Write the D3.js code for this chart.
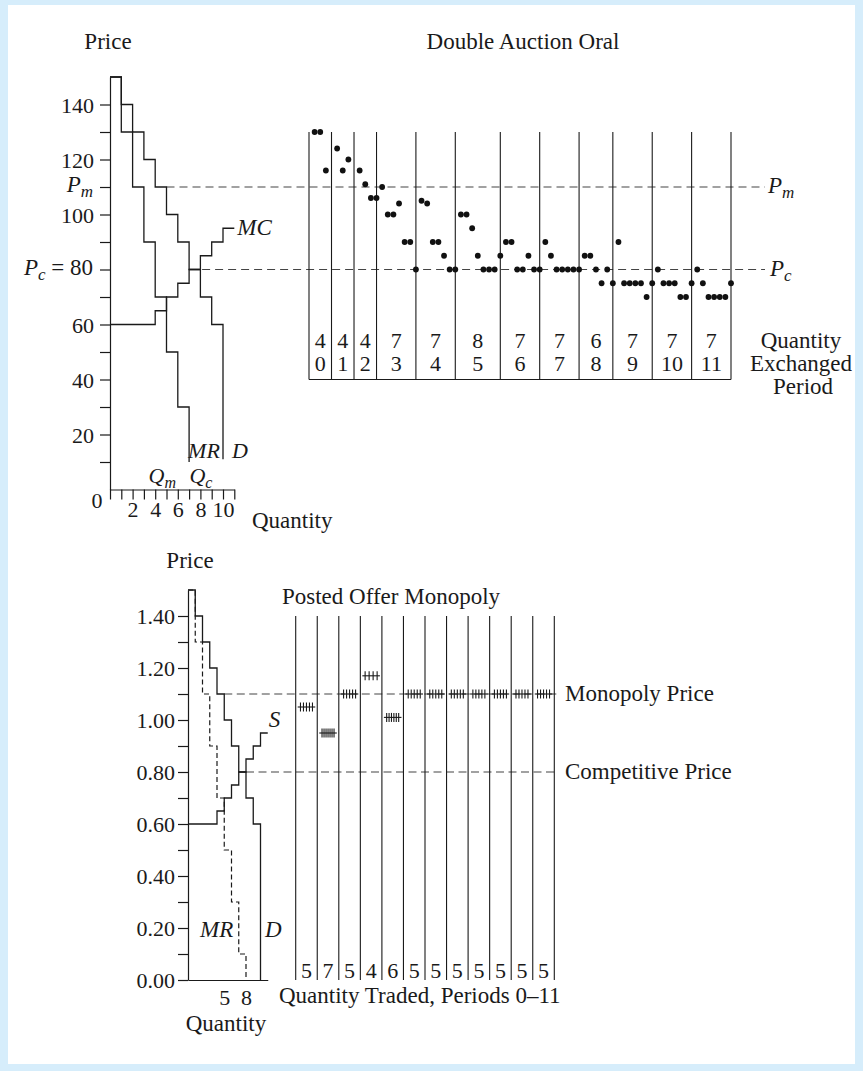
<!DOCTYPE html>
<html>
<head>
<meta charset="utf-8">
<script src="https://cdn.jsdelivr.net/npm/d3@7"></script>
<style>
  html, body { margin: 0; padding: 0; background: #d6edfb; }
  svg { display: block; }
</style>
</head>
<body>
<svg id="fig" width="863" height="1071"></svg>
<script>
// ---------- Double auction (oral): induced values and costs, price in cents ----------
const demandTop  = [150, 140, 130, 120, 110, 100, 90, 80, 70, 60]; // level over unit q..q+1
const demandTopEnd = 11;
const mrTop      = [150, 130, 110, 90, 70, 50, 30];
const mrTopEnd   = 10;
const mcTop      = [60, 60, 60, 60, 65, 70, 75, 80, 85, 90, 95];
const priceMonopolyTop = 110;
const priceCompetitiveTop = 80;
const yTickValuesTop = [10, 20, 30, 40, 50, 60, 70, 80, 90, 100, 110, 120, 130, 140];
const xTickValuesTop = [0, 1, 2, 3, 4, 5, 6, 7, 8, 9, 10, 11];

// contracts per trading period and the prices at which they were struck, in order
const periodQty = [4, 4, 4, 7, 7, 8, 7, 7, 6, 7, 7, 7];
const periodNames = ["0", "1", "2", "3", "4", "5", "6", "7", "8", "9", "10", "11"];
const tradePrices = [
  [130, 130, 116],
  [124, 116, 120],
  [116, 111, 106, 106],
  [110, 100, 100, 104, 90, 90, 80],
  [105, 104, 90, 90, 85, 80, 80],
  [100, 100, 95, 85, 80, 80, 80, 85],
  [90, 90, 80, 80, 85, 80, 80],
  [90, 85, 80, 80, 80, 80, 80],
  [85, 85, 80, 75, 80, 75],
  [90, 75, 75, 75, 75, 70, 75],
  [80, 75, 75, 75, 70, 70, 75],
  [80, 75, 70, 70, 70, 70, 75]
];

// ---------- Posted offer monopoly, price in dollars ----------
const demandLow = [1.50, 1.40, 1.30, 1.20, 1.10, 1.00, 0.90, 0.80, 0.70, 0.60];
const demandLowEnd = 0;
const mrLow     = [1.50, 1.30, 1.10, 0.90, 0.70, 0.50, 0.30, 0.10];
const mrLowEnd  = 0;
const supplyLow = [0.60, 0.60, 0.60, 0.60, 0.65, 0.70, 0.75, 0.80, 0.85, 0.90, 0.95];
const priceMonopolyLow = 1.10;
const priceCompetitiveLow = 0.80;
const yTickValuesLow = d3.range(0, 15).map(i => i / 10);
const xTickValuesLow = [5, 8];
const postedQty = [5, 7, 5, 4, 6, 5, 5, 5, 5, 5, 5, 5];
const postedPrice = [1.05, 0.95, 1.10, 1.17, 1.01, 1.10, 1.10, 1.10, 1.10, 1.10, 1.10, 1.10];

// ---------- drawing ----------
const ink = "#1a1a1a";
const dashInk = "#444";
const serif = '"Liberation Serif", "Times New Roman", Times, serif';
const FS = 23;      // labels and titles
const FS_TICK = 22; // axis numbers

const svg = d3.select("#fig");
svg.append("rect").attr("x", 8).attr("y", 5).attr("width", 847).attr("height", 1059).attr("fill", "#fff");

function txt(x, y, s, opts = {}) {
  return svg.append("text")
    .attr("x", x).attr("y", y)
    .attr("font-family", serif)
    .attr("font-size", opts.size || FS)
    .attr("font-style", opts.italic ? "italic" : null)
    .attr("text-anchor", opts.anchor || "start")
    .attr("fill", ink)
    .text(s);
}

// italic symbol with italic subscript, optional roman tail
function symbol(x, y, main, sub, tail, anchor, size) {
  const fs = size || FS;
  const t = svg.append("text")
    .attr("x", x).attr("y", y)
    .attr("font-family", serif).attr("font-size", fs)
    .attr("text-anchor", anchor || "start").attr("fill", ink);
  t.append("tspan").attr("font-style", "italic").text(main);
  if (sub) t.append("tspan").attr("font-style", "italic").attr("font-size", Math.round(fs * 0.72)).attr("dy", 5).text(sub);
  if (tail) t.append("tspan").attr("dy", sub ? -5 : 0).text(tail);
  return t;
}

function styleAxis(g) {
  g.attr("font-family", serif).attr("font-size", FS_TICK);
  g.selectAll(".domain").attr("stroke", ink).attr("stroke-width", 1.2);
  g.selectAll(".tick line").attr("stroke", ink).attr("stroke-width", 1.2);
  g.selectAll(".tick text").attr("fill", ink);
}

function stepPoints(vals, endVal) {
  const pts = [];
  vals.forEach((v, i) => { pts.push([i, v]); pts.push([i + 1, v]); });
  if (endVal !== undefined) pts.push([vals.length, endVal]);
  return pts;
}

// ================= Upper panel =================
const xQ1 = d3.scaleLinear().domain([0, 11]).range([110, 110 + 11 * 11.3]);
const yP1 = d3.scaleLinear().domain([0, 150]).range([489.5, 489.5 - 150 * 2.75]);
const line1 = d3.line().x(d => xQ1(d[0])).y(d => yP1(d[1]));

txt(108, 49, "Price", { anchor: "middle" });
txt(523, 49, "Double Auction Oral", { anchor: "middle" });

const yAx1 = svg.append("g").attr("transform", `translate(${xQ1(0)},0)`)
  .call(d3.axisLeft(yP1).tickValues(yTickValuesTop).tickSize(10).tickSizeOuter(0).tickPadding(6)
    .tickFormat(d => (d % 20 === 0 && d !== 80) ? d : ""));
styleAxis(yAx1);
yAx1.selectAll(".tick text").attr("dy", "0.36em");

const xAx1 = svg.append("g").attr("transform", `translate(0,${yP1(0)})`)
  .call(d3.axisBottom(xQ1).tickValues(xTickValuesTop).tickSize(10).tickSizeOuter(0).tickPadding(2)
    .tickFormat(d => (d > 0 && d % 2 === 0) ? d : ""));
styleAxis(xAx1);
txt(97, 508, "0", { anchor: "middle", size: FS_TICK });
txt(252, 528, "Quantity");

symbol(93, yP1(priceMonopolyTop) + 5, "P", "m", null, "end", FS_TICK + 1);
symbol(93, yP1(priceCompetitiveTop) + 5, "P", "c", " = 80", "end", FS_TICK + 1);

// reference price lines
const xEndRef = 765;
svg.append("line").attr("x1", xQ1(5)).attr("x2", xEndRef)
  .attr("y1", yP1(priceMonopolyTop)).attr("y2", yP1(priceMonopolyTop))
  .attr("stroke", dashInk).attr("stroke-width", 1.2).attr("stroke-dasharray", "8,5");
svg.append("line").attr("x1", xQ1(7)).attr("x2", xEndRef)
  .attr("y1", yP1(priceCompetitiveTop)).attr("y2", yP1(priceCompetitiveTop))
  .attr("stroke", dashInk).attr("stroke-width", 1.2).attr("stroke-dasharray", "8,5");
symbol(768, yP1(priceMonopolyTop) + 6, "P", "m");
symbol(770, yP1(priceCompetitiveTop) + 6, "P", "c");

// step schedules
[[demandTop, demandTopEnd], [mrTop, mrTopEnd], [mcTop, undefined]].forEach(([v, e]) => {
  svg.append("path").attr("d", line1(stepPoints(v, e)))
    .attr("fill", "none").attr("stroke", ink).attr("stroke-width", 1.3);
});
txt(xQ1(11) + 3, yP1(95) + 7, "MC", { italic: true });
txt(xQ1(7) - 1, 458, "MR", { italic: true, size: 22 });
txt(xQ1(10) + 9, 458, "D", { italic: true, size: 22 });
symbol(xQ1(5) - 18, 483, "Q", "m", null, null, 22);
symbol(xQ1(8) - 11, 483, "Q", "c", null, null, 22);

// trading record
const cumStart = periodQty.reduce((a, q, i) => { a.push(a[i] + q); return a; }, [0]);
const totalTrades = cumStart[cumStart.length - 1];
const xT = d3.scaleLinear().domain([0, totalTrades]).range([309, 731]);

svg.append("g").selectAll("line").data(cumStart).join("line")
  .attr("x1", d => xT(d)).attr("x2", d => xT(d))
  .attr("y1", yP1(130)).attr("y2", yP1(40))
  .attr("stroke", ink).attr("stroke-width", 1.1);
svg.append("line").attr("x1", xT(0)).attr("x2", xT(totalTrades))
  .attr("y1", yP1(40)).attr("y2", yP1(40)).attr("stroke", ink).attr("stroke-width", 1.1);

const dots = [];
tradePrices.forEach((arr, i) => arr.forEach((p, j) => dots.push({ k: cumStart[i] + j + 1, p })));
svg.append("g").selectAll("circle").data(dots).join("circle")
  .attr("cx", d => xT(d.k)).attr("cy", d => yP1(d.p)).attr("r", 2.9).attr("fill", "#111");

periodQty.forEach((q, i) => {
  const cx = (xT(cumStart[i]) + xT(cumStart[i + 1])) / 2;
  txt(cx, 348, String(q), { anchor: "middle", size: FS_TICK });
  txt(cx, 371, periodNames[i], { anchor: "middle", size: FS_TICK });
});
txt(801, 348, "Quantity", { anchor: "middle" });
txt(801, 371, "Exchanged", { anchor: "middle" });
txt(803, 394, "Period", { anchor: "middle" });

// ================= Lower panel =================
const xQ2 = d3.scaleLinear().domain([0, 11]).range([188, 188 + 11 * 7.25]);
const yV2 = d3.scaleLinear().domain([0, 1.5]).range([980, 980 - 1.5 * 260]);
const line2 = d3.line().x(d => xQ2(d[0])).y(d => yV2(d[1]));

txt(190, 568, "Price", { anchor: "middle" });
txt(391, 604, "Posted Offer Monopoly", { anchor: "middle" });

const yAx2 = svg.append("g").attr("transform", `translate(${xQ2(0)},0)`)
  .call(d3.axisLeft(yV2).tickValues(yTickValuesLow).tickSize(10).tickSizeOuter(0).tickPadding(3)
    .tickFormat(d => (Math.round(d * 10) % 2 === 0) ? d.toFixed(2) : ""));
styleAxis(yAx2);
yAx2.selectAll(".tick text").attr("dy", "0.36em");

const xAx2 = svg.append("g").attr("transform", `translate(0,${yV2(0)})`)
  .call(d3.axisBottom(xQ2).tickValues(xTickValuesLow).tickSize(0).tickSizeOuter(0).tickPadding(6));
styleAxis(xAx2);
xAx2.selectAll(".tick text").attr("dy", "0.85em");
txt(226, 1031, "Quantity", { anchor: "middle" });

// reference price lines
const xp = d3.scaleLinear().domain([0, 12]).range([295.7, 554.3]);
svg.append("line").attr("x1", xQ2(5)).attr("x2", xp(12) + 2)
  .attr("y1", yV2(priceMonopolyLow)).attr("y2", yV2(priceMonopolyLow))
  .attr("stroke", dashInk).attr("stroke-width", 1.2).attr("stroke-dasharray", "8,4.5");
svg.append("line").attr("x1", xQ2(8)).attr("x2", xp(12) + 2)
  .attr("y1", yV2(priceCompetitiveLow)).attr("y2", yV2(priceCompetitiveLow))
  .attr("stroke", dashInk).attr("stroke-width", 1.2).attr("stroke-dasharray", "8,4.5");
txt(565, yV2(priceMonopolyLow) + 7, "Monopoly Price");
txt(565, yV2(priceCompetitiveLow) + 7, "Competitive Price");

svg.append("path").attr("d", line2(stepPoints(demandLow, demandLowEnd)))
  .attr("fill", "none").attr("stroke", ink).attr("stroke-width", 1.3);
svg.append("path").attr("d", line2(stepPoints(supplyLow)))
  .attr("fill", "none").attr("stroke", ink).attr("stroke-width", 1.3);
svg.append("path").attr("d", line2(stepPoints(mrLow, mrLowEnd)))
  .attr("fill", "none").attr("stroke", ink).attr("stroke-width", 1.2).attr("stroke-dasharray", "5,3");
txt(xQ2(11) + 1, yV2(0.95) - 6, "S", { italic: true });
txt(200, 937, "MR", { italic: true });
txt(265, 937, "D", { italic: true });

// posted offer periods
svg.append("g").selectAll("line").data(d3.range(13)).join("line")
  .attr("x1", d => xp(d)).attr("x2", d => xp(d))
  .attr("y1", yV2(1.40)).attr("y2", yV2(0))
  .attr("stroke", ink).attr("stroke-width", 1.1);

postedQty.forEach((n, i) => {
  const x0 = xp(i), x1 = xp(i + 1), cx = (x0 + x1) / 2, y = yV2(postedPrice[i]);
  const g = svg.append("g");
  g.append("line").attr("x1", x0 + 2).attr("x2", x1 - 2).attr("y1", y).attr("y2", y)
    .attr("stroke", ink).attr("stroke-width", 1.1);
  const span = 12, step = n > 1 ? span / (n - 1) : 0;
  g.selectAll("line.t").data(d3.range(n)).join("line").attr("class", "t")
    .attr("x1", k => cx - span / 2 + k * step).attr("x2", k => cx - span / 2 + k * step)
    .attr("y1", y - 4.5).attr("y2", y + 4.5)
    .attr("stroke", ink).attr("stroke-width", 1.1);
  txt(cx, 978, String(n), { anchor: "middle", size: FS_TICK });
});
txt(279, 1003, "Quantity Traded, Periods 0\u201311");
</script>
</body>
</html>
